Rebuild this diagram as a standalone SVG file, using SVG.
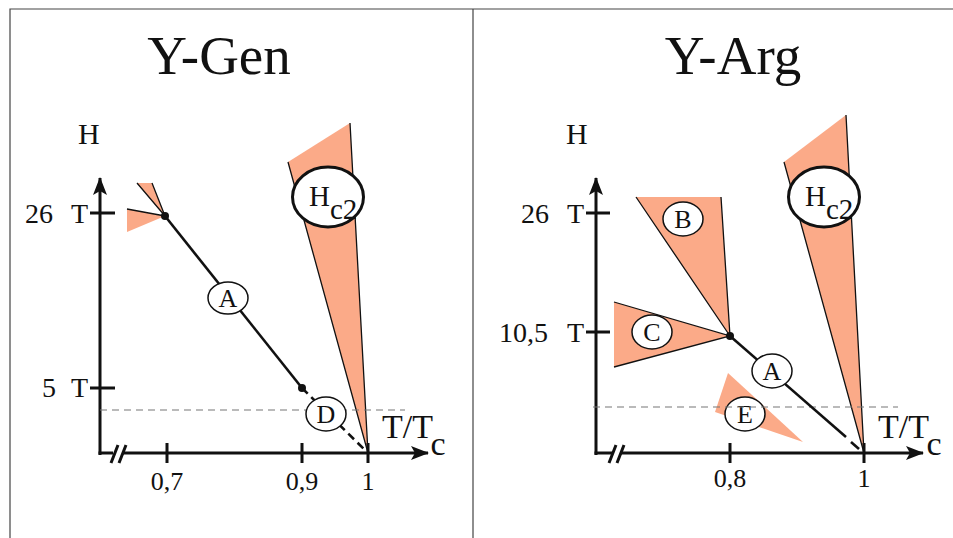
<svg xmlns="http://www.w3.org/2000/svg" width="953" height="538" viewBox="0 0 953 538">
<defs>
<marker id="arr" viewBox="0 0 18 14" refX="17" refY="7" markerWidth="18" markerHeight="14" markerUnits="userSpaceOnUse" orient="auto">
<path d="M0,0 L18,7 L0,14 L4,7 Z" fill="#111"/>
</marker>
</defs>
<rect width="953" height="538" fill="#fff"/>
<g id="frame">
<path stroke="#444" stroke-width="1.2" fill="none" d="M10,538 V9 H953 M473,9 V538"/>
</g>

<g id="left-panel">
<text font-family="Liberation Serif" font-size="55" text-anchor="middle" fill="#111" x="219" y="74">Y-Gen</text>
<text font-family="Liberation Serif" font-size="30" fill="#111" x="78" y="144">H</text>
<g id="left-hc2">
<polygon fill="#FBAA88" points="288,162 350,123 368,453"/>
<path stroke="#111" stroke-width="1.3" fill="none" d="M288,162 L368,453 M350,123 L368,453"/>
<ellipse fill="#fff" stroke="#111" stroke-width="3" cx="328" cy="197" rx="35.5" ry="30"/>
<text font-family="Liberation Serif" font-size="29" fill="#111" x="309" y="206">H<tspan dy="13">c2</tspan></text>
</g>
<g id="left-fans">
<polygon fill="#FBAA88" points="165,216 137,183 152,183"/>
<polygon fill="#FBAA88" points="165,216 127,209 127,232"/>
<path stroke="#111" stroke-width="1.3" fill="none" d="M137,183 L165,216 L152,183 M127,209 L165,216"/>
</g>
<g id="left-axes" stroke="#111" stroke-width="3" fill="none">
<line x1="100" y1="455" x2="100" y2="178" marker-end="url(#arr)"/>
<path d="M98.5,453 H113"/>
<line x1="123" y1="453" x2="428" y2="453" marker-end="url(#arr)"/>
<path d="M111,463 L118,445 M119,463 L126,445"/>
<path d="M167,443 V463 M302,443 V463 M368,443 V463 M90,213 H115 M90,388 H115"/>
</g>
<g id="left-labels" font-family="Liberation Serif" fill="#111">
<text font-family="Liberation Serif" font-size="28" x="25" y="223">26</text>
<text font-family="Liberation Serif" font-size="28" x="71" y="223">T</text>
<text font-family="Liberation Serif" font-size="28" x="42" y="397">5</text>
<text font-family="Liberation Serif" font-size="28" x="71" y="397">T</text>
<text font-family="Liberation Serif" font-size="26" text-anchor="middle" x="167" y="490">0,7</text>
<text font-family="Liberation Serif" font-size="26" text-anchor="middle" x="302" y="490">0,9</text>
<text font-family="Liberation Serif" font-size="26" text-anchor="middle" x="368" y="490">1</text>
<text font-family="Liberation Serif" font-size="34" x="382" y="438">T/T<tspan dy="17">c</tspan></text>
</g>
<line stroke="#777" stroke-width="1.2" stroke-dasharray="7 5" x1="100" y1="410" x2="405" y2="410"/>
<g id="left-connectors">
<line stroke="#111" stroke-width="2.6" x1="165" y1="216" x2="302" y2="388"/>
<line stroke="#111" stroke-width="2.6" stroke-dasharray="8 5" x1="302" y1="388" x2="368" y2="453"/>
<circle cx="165" cy="216" r="4" fill="#111"/>
<circle cx="302" cy="388" r="4" fill="#111"/>
</g>
<g id="left-A">
<ellipse fill="#fff" stroke="#111" stroke-width="1.5" cx="228" cy="298" rx="20" ry="16"/>
<text font-family="Liberation Serif" font-size="26" text-anchor="middle" fill="#111" x="228" y="307">A</text>
</g>
<g id="left-D">
<ellipse fill="#fff" stroke="#111" stroke-width="1.5" cx="326" cy="414" rx="20" ry="17"/>
<text font-family="Liberation Serif" font-size="26" text-anchor="middle" fill="#111" x="326" y="423">D</text>
</g>
</g>

<g id="right-panel">
<text font-family="Liberation Serif" font-size="55" text-anchor="middle" fill="#111" x="733" y="74">Y-Arg</text>
<text font-family="Liberation Serif" font-size="30" fill="#111" x="566" y="144">H</text>
<g id="right-hc2">
<polygon fill="#FBAA88" points="784,162 846,115 864,453"/>
<path stroke="#111" stroke-width="1.3" fill="none" d="M784,162 L864,453 M846,115 L864,453"/>
<ellipse fill="#fff" stroke="#111" stroke-width="3" cx="824" cy="197" rx="35.5" ry="30"/>
<text font-family="Liberation Serif" font-size="29" fill="#111" x="805" y="206">H<tspan dy="13">c2</tspan></text>
</g>
<g id="right-B">
<polygon fill="#FBAA88" points="636,197 721,197 730,336"/>
<path stroke="#111" stroke-width="1.3" fill="none" d="M636,197 L730,336 M721,197 L730,336"/>
<ellipse fill="#fff" stroke="#111" stroke-width="1.5" cx="683" cy="219" rx="20" ry="17"/>
<text font-family="Liberation Serif" font-size="26" text-anchor="middle" fill="#111" x="683" y="228">B</text>
</g>
<g id="right-C">
<polygon fill="#FBAA88" points="614,302 614,367 730,336"/>
<path stroke="#111" stroke-width="1.3" fill="none" d="M614,302 L730,336 L614,367"/>
<ellipse fill="#fff" stroke="#111" stroke-width="1.5" cx="652" cy="332" rx="20" ry="17"/>
<text font-family="Liberation Serif" font-size="26" text-anchor="middle" fill="#111" x="652" y="341">C</text>
</g>
<g id="right-E">
<polygon fill="#FBAA88" points="728,373 715,412 803,442"/>
<ellipse fill="#fff" stroke="#111" stroke-width="1.5" cx="745" cy="414" rx="20" ry="17"/>
<text font-family="Liberation Serif" font-size="26" text-anchor="middle" fill="#111" x="745" y="423">E</text>
</g>
<g id="right-axes" stroke="#111" stroke-width="3" fill="none">
<line x1="596" y1="455" x2="596" y2="178" marker-end="url(#arr)"/>
<path d="M594.5,453 H612"/>
<line x1="620" y1="453" x2="923" y2="453" marker-end="url(#arr)"/>
<path d="M609,463 L616,445 M617,463 L624,445"/>
<path d="M730,443 V463 M864,443 V463 M586,213 H610 M586,332 H610"/>
</g>
<g id="right-labels" font-family="Liberation Serif" fill="#111">
<text font-family="Liberation Serif" font-size="28" x="521" y="223">26</text>
<text font-family="Liberation Serif" font-size="28" x="567" y="223">T</text>
<text font-family="Liberation Serif" font-size="28" x="499" y="342">10,5</text>
<text font-family="Liberation Serif" font-size="28" x="567" y="342">T</text>
<text font-family="Liberation Serif" font-size="26" text-anchor="middle" x="730" y="487">0,8</text>
<text font-family="Liberation Serif" font-size="26" text-anchor="middle" x="864" y="487">1</text>
<text font-family="Liberation Serif" font-size="34" x="878" y="438">T/T<tspan dy="17">c</tspan></text>
</g>
<line stroke="#777" stroke-width="1.2" stroke-dasharray="7 5" x1="593" y1="407" x2="898" y2="407"/>
<g id="right-connectors">
<line stroke="#111" stroke-width="2.6" x1="730" y1="336" x2="846" y2="437"/>
<line stroke="#111" stroke-width="2.6" x1="851" y1="442" x2="859" y2="449"/>
<circle cx="730" cy="336" r="4" fill="#111"/>
</g>
<g id="right-A">
<ellipse fill="#fff" stroke="#111" stroke-width="1.5" cx="772" cy="371" rx="20" ry="17"/>
<text font-family="Liberation Serif" font-size="26" text-anchor="middle" fill="#111" x="772" y="380">A</text>
</g>
</g>
</svg>
